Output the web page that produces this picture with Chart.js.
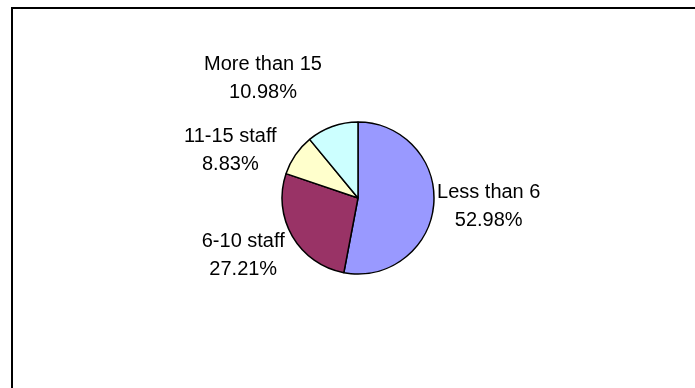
<!DOCTYPE html>
<html>
<head>
<meta charset="utf-8">
<script src="https://cdn.jsdelivr.net/npm/chart.js@4"></script>
<style>
  html, body { margin: 0; padding: 0; background: #fff; }
  #box { width: 695px; height: 388px; }
</style>
</head>
<body>
<div id="box"><canvas id="grafico"></canvas></div>
<script>
// dados do gráfico
const categorias = ['Less than 6', '6-10 staff', '11-15 staff', 'More than 15'];
const percentuais = [52.98, 27.21, 8.83, 10.98];
const cores = ['#9999FF', '#993366', '#FFFFCC', '#CCFFFF'];

// deslocamento de cada rótulo em relação ao centro (em raios)
const posRotulos = [[1.72, 0.11], [-1.51, 0.75], [-1.68, -0.62], [-1.25, -1.57]];

// moldura (só topo e esquerda aparecem)
const moldura = {
  id: 'moldura',
  beforeDraw(chart) {
    const c = chart.ctx;
    c.save();
    c.fillStyle = '#fff';
    c.fillRect(0, 0, chart.width, chart.height);
    c.fillStyle = '#000';
    c.fillRect(11, 7, chart.width - 11, 2);
    c.fillRect(11, 7, 2, chart.height - 7);
    c.restore();
  }
};

// rótulos: nome + percentual
const rotulos = {
  id: 'rotulos',
  afterDatasetsDraw(chart) {
    const c = chart.ctx;
    const arcos = chart.getDatasetMeta(0).data;
    c.save();
    c.font = '20px "Liberation Sans", Arial, sans-serif';
    c.fillStyle = '#000';
    c.textAlign = 'center';
    c.textBaseline = 'middle';
    arcos.forEach((arco, i) => {
      const r = arco.outerRadius;
      const x = arco.x + posRotulos[i][0] * r;
      const y = arco.y + posRotulos[i][1] * r;
      c.fillText(categorias[i], x, y - 14);
      c.fillText(percentuais[i].toFixed(2) + '%', x, y + 14);
    });
    c.restore();
  }
};

new Chart(document.getElementById('grafico'), {
  type: 'pie',
  data: {
    labels: categorias,
    datasets: [{
      data: percentuais,
      backgroundColor: cores,
      borderColor: '#000',
      borderWidth: 1.5,
      radius: 76
    }]
  },
  options: {
    responsive: true,
    maintainAspectRatio: false,
    animation: false,
    layout: { padding: { left: 282, right: 261, top: 122, bottom: 114 } },
    plugins: {
      legend: { display: false },
      tooltip: { enabled: false }
    }
  },
  plugins: [moldura, rotulos]
});
</script>
</body>
</html>
